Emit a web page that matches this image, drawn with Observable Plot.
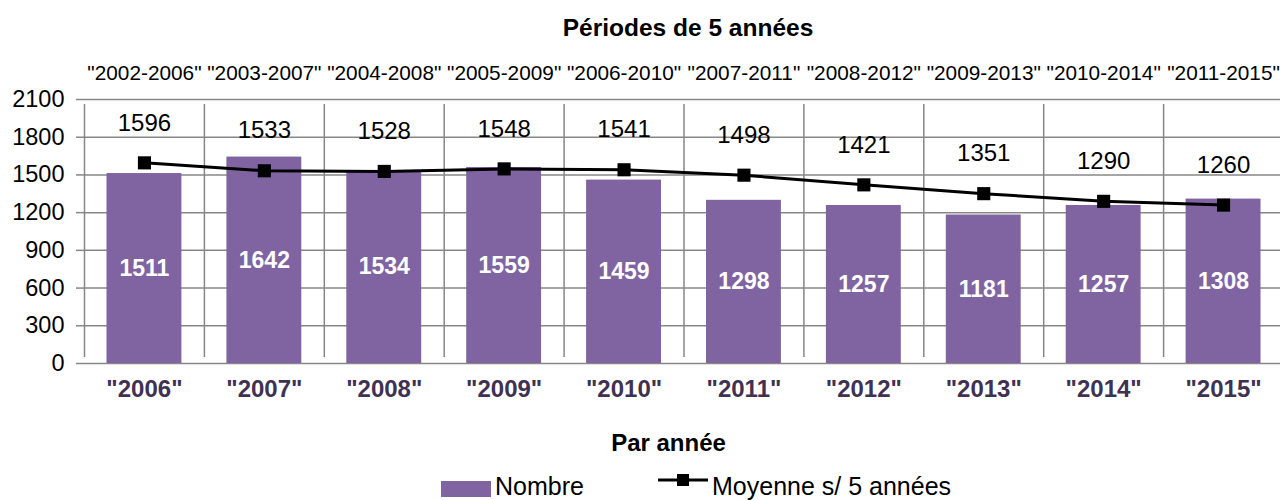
<!DOCTYPE html>
<html>
<head>
<meta charset="utf-8">
<script src="https://cdn.jsdelivr.net/npm/d3@7"></script>
<script src="https://cdn.jsdelivr.net/npm/@observablehq/plot@0.6"></script>
<style>
  html, body { margin: 0; padding: 0; background: white; overflow: hidden; }
  body { width: 1280px; height: 500px; position: relative; font-family: "Liberation Sans", Arial, sans-serif; }
  #title { position: absolute; top: 13px; left: 688px; transform: translateX(-50%); font-weight: bold; font-size: 24.5px; white-space: nowrap; line-height: 30px; }
  #chart { position: absolute; top: 50px; left: 0; }
  .leg { position: absolute; font-size: 25px; line-height: 28px; white-space: nowrap; }
</style>
</head>
<body>
<div id="title">Périodes de 5 années</div>
<div id="chart"></div>
<div id="legend">
  <svg style="position:absolute;left:441px;top:481px" width="50" height="16"><rect width="50" height="16" fill="#8064A2"></rect></svg>
  <div class="leg" style="left:495px;top:472px">Nombre</div>
  <svg style="position:absolute;left:658px;top:471px" width="50" height="18"><line x1="0" x2="50" y1="9" y2="9" stroke="black" stroke-width="3"></line><rect x="19" y="3" width="12" height="12" fill="black"></rect></svg>
  <div class="leg" style="left:712px;top:472px">Moyenne s/ 5 années</div>
</div>
<script>
const years = ["2006","2007","2008","2009","2010","2011","2012","2013","2014","2015"];
const periods = ["2002-2006","2003-2007","2004-2008","2005-2009","2006-2010","2007-2011","2008-2012","2009-2013","2010-2014","2011-2015"];
const nombre = [1511,1642,1534,1559,1459,1298,1257,1181,1257,1308];
const moyenne = [1596,1533,1528,1548,1541,1498,1421,1351,1290,1260];
const yTicks = [0,300,600,900,1200,1500,1800,2100];

const data = years.map((y, i) => ({i, year: y, period: periods[i], nombre: nombre[i], moyenne: moyenne[i]}));
const boundaries = d3.range(years.length + 1);
const cx = d => d.i + 0.5;
const grid = "#878787";

const chart = Plot.plot({
  width: 1280,
  height: 415,
  marginTop: 49,
  marginBottom: 102,
  marginLeft: 84,
  marginRight: 0,
  style: {fontFamily: "'Liberation Sans', Arial, sans-serif", background: "white", overflow: "visible"},
  x: {domain: [0, years.length], range: [84, 1283], axis: null},
  y: {domain: [0, 2100]},
  marks: [
    Plot.gridY(yTicks, {stroke: grid, strokeOpacity: 1, strokeWidth: 1.5}),
    Plot.ruleX(boundaries, {y1: 0, y2: 2100, insetTop: -6, insetBottom: -5, stroke: grid, strokeWidth: 1.5}),
    Plot.axisY(yTicks, {tickSize: 8, tickPadding: 12, stroke: grid, strokeWidth: 1.5, fill: "black", fontSize: 23.5, tickFormat: d => String(d), label: null}),
    Plot.rectY(data, {x1: d => d.i, x2: d => d.i + 1, y: "nombre", fill: "#8064A2", insetLeft: 22.5, insetRight: 22.5}),
    Plot.text(data, {x: cx, y: d => d.nombre / 2, text: d => String(d.nombre), fill: "white", fontWeight: "bold", fontSize: 23}),
    Plot.line(data, {x: cx, y: "moyenne", stroke: "black", strokeWidth: 3}),
    Plot.dot(data, {x: cx, y: "moyenne", symbol: "square", r: 7.4, fill: "black", stroke: null}),
    Plot.text(data, {x: cx, y: "moyenne", text: d => String(d.moyenne), dy: -40, fontSize: 24, fill: "black"}),
    Plot.text(data, {x: cx, text: d => `"${d.period}"`, frameAnchor: "top", lineAnchor: "middle", dy: -26, fontSize: 20.8, fill: "black"}),
    Plot.text(data, {x: cx, text: d => `"${d.year}"`, frameAnchor: "bottom", lineAnchor: "middle", dy: 26, fontSize: 24, fontWeight: "bold", fill: "#3F3151"}),
    Plot.text(["Par année"], {frameAnchor: "bottom", lineAnchor: "middle", dx: -14, dy: 80, fontSize: 24, fontWeight: "bold", fill: "black"})
  ]
});
document.getElementById("chart").appendChild(chart);
</script>
</body>
</html>
